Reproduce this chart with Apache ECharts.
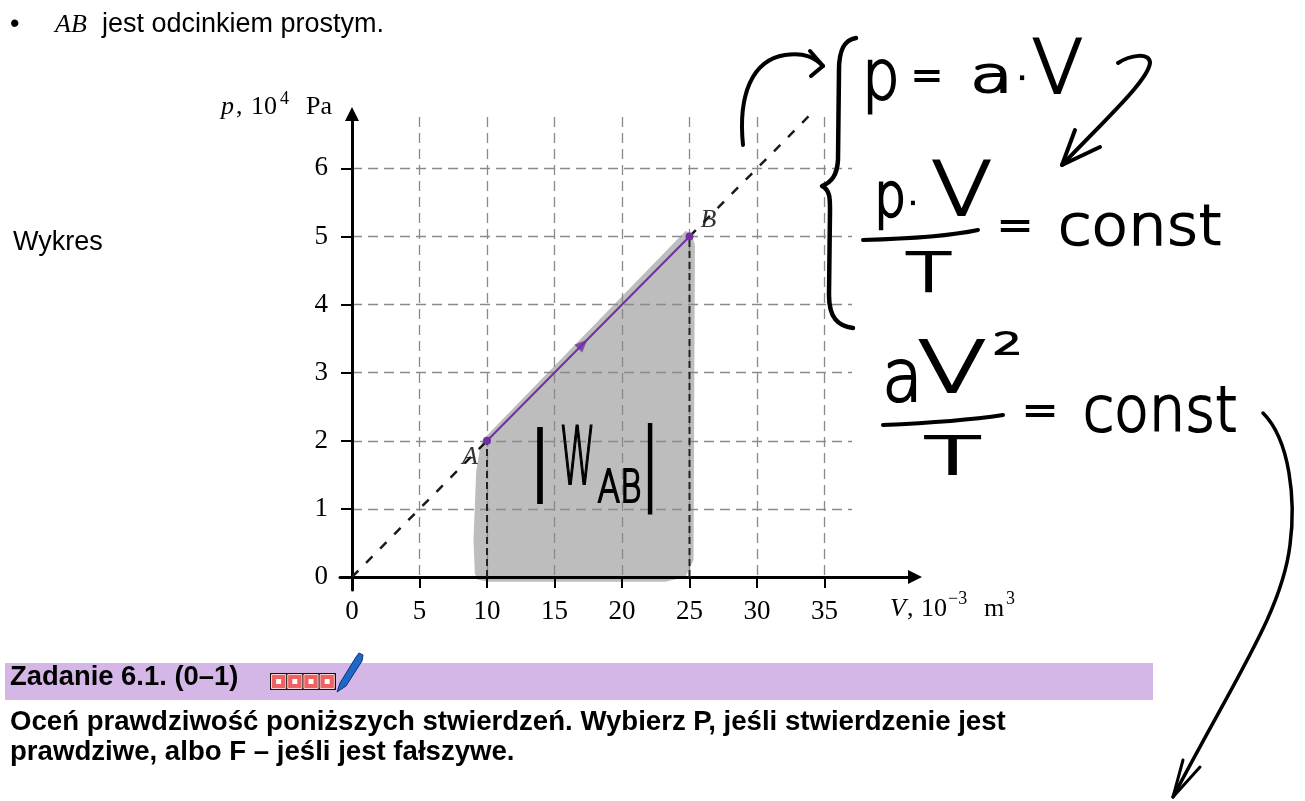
<!DOCTYPE html>
<html>
<head>
<meta charset="utf-8">
<script src="https://cdn.jsdelivr.net/npm/echarts@6/dist/echarts.min.js"></script>
<style>
  html, body { margin: 0; padding: 0; background: #fff; }
  #c { width: 1305px; height: 801px; }
</style>
</head>
<body>
<div id="c"></div>
<script>
// ---------- data ----------
const vTicks = [0, 5, 10, 15, 20, 25, 30, 35];      // V, 10^-3 m^3
const pTicks = [0, 1, 2, 3, 4, 5, 6];                // p, 10^4 Pa
const stateNames = ['A', 'B'];
const stateV = [10, 25];
const stateP = [2, 5];
// p = a·V ray through the origin (drawn below A and beyond B)
const rayV = [0, 10, 25, 34.3];
const rayP = [0, 2, 5, 6.86];
// direction marker on AB
const markV = [17.1];
const markP = [3.42];
// hand-shaded area under AB (work |W_AB|)
const shadeV = [9.1, 9.0, 9.2, 9.45, 9.7, 24.7, 25.1, 25.4, 25.35, 25.3, 24.7, 23.2, 10.2, 9.3];
const shadeP = [0.05, 0.55, 1.55, 1.85, 2.02, 5.08, 5.05, 4.88, 2.6, 0.25, 0.0, -0.07, -0.07, -0.04];

// ---------- layout ----------
const X0 = 352, Y0 = 577;          // pixel position of the origin
const PXV = 13.5, PXP = 68.1;      // pixels per unit on V and p
const vAt = px => (px - X0) / PXV;
const pAt = py => (Y0 - py) / PXP;

const SANS = "'Liberation Sans', Arial, sans-serif";
const SERIF = "'Liberation Serif', 'Times New Roman', serif";
const HAND = "'DejaVu Sans', sans-serif";
const PURPLE = '#7030a0';

// text placed by its baseline; off = baseline distance below the middle line
function txt(text, x, base, fs, o = {}) {
  const sy = o.sy || 1;
  const hand = o.family === HAND;
  const off = hand ? 0.28 : 0.35;
  const style = {
    text: text, fontSize: fs, fontFamily: o.family || SANS,
    fontStyle: o.italic ? 'italic' : 'normal',
    fontWeight: o.bold ? 'bold' : (hand ? 300 : 'normal'),
    fill: o.color || '#000',
    textAlign: o.align || 'left', align: o.align || 'left',
    textVerticalAlign: 'middle', verticalAlign: 'middle'
  };
  if (hand) {
    // thin pen letters, thickened a little with an outline
    style.stroke = '#000';
    style.lineWidth = 2.2;
  }
  return {
    type: 'text', x: x, y: base - off * fs * sy, z: 100,
    scaleX: o.sx || 1, scaleY: sy, style: style
  };
}

// pen strokes of the notes (brace, arrows, fraction bars)
const strokes = [
  ['M863,240 C900,239 950,236 978,230', 4],
  ['M883,425 C930,423 970,420 1003,415', 4],
  ['M856,38 C843,40 839,52 839,70 L838,160 C837,175 832,182 822,186 C830,190 830,198 830,210 L829,295 C829,318 838,326 853,328', 4.5],
  ['M743,145 C738,95 752,60 785,55 C805,52 815,58 823,66', 4],
  ['M810,51 L823,66 L811,76', 4],
  ['M1118,63 C1130,55 1150,52 1150,63 C1148,80 1110,115 1062,165', 4],
  ['M1075,130 L1062,165 L1100,147', 4],
  ['M1263,413 C1290,440 1296,500 1290,545 C1282,610 1240,670 1173,797', 3.5],
  ['M1183,760 L1173,797 L1200,767', 3]
];

const chart = echarts.init(document.getElementById('c'));

const graphics = [
  // heading line
  txt('•', 10, 34, 27),
  txt('AB', 55, 34, 26, { family: SERIF, italic: true }),
  txt('jest odcinkiem prostym.', 102, 34, 27),
  txt('Wykres', 13, 252, 27),

  // axis names
  txt('p', 221, 116, 26, { family: SERIF, italic: true }),
  txt(',', 236, 116, 26, { family: SERIF }),
  txt('10', 251, 116, 26, { family: SERIF }),
  txt('4', 280, 106, 18, { family: SERIF }),
  txt('Pa', 306, 116, 26, { family: SERIF }),
  txt('V', 890, 618, 26, { family: SERIF, italic: true }),
  txt(',', 907, 618, 26, { family: SERIF }),
  txt('10', 921, 618, 26, { family: SERIF }),
  txt('\u22123', 948, 606, 18, { family: SERIF }),
  txt('m', 984, 618, 26, { family: SERIF }),
  txt('3', 1006, 606, 18, { family: SERIF }),

  // |W_AB| written on the shaded area
  txt('|', 540, 487, 75, { family: HAND, align: 'center' }),
  txt('W', 577.5, 486, 80, { family: HAND, align: 'center', sx: 0.45 }),
  txt('AB', 619.5, 503, 44, { family: HAND, align: 'center', sx: 0.75 }),
  txt('|', 650, 494, 89, { family: HAND, align: 'center', sx: 0.7 }),

  // notes: p = a·V
  txt('p', 881, 100, 70, { family: HAND, align: 'center', sx: 0.85 }),
  txt('=', 927, 93.5, 50, { family: HAND, align: 'center', sx: 0.75 }),
  txt('a', 991.5, 93, 50, { family: HAND, align: 'center', sx: 1.4 }),
  txt('·', 1022, 93, 40, { family: HAND, align: 'center' }),
  txt('V', 1057.5, 95, 75, { family: HAND, align: 'center' }),

  // p·V / T = const
  txt('p', 890, 217, 50, { family: HAND, align: 'center', sy: 1.2 }),
  txt('·', 913, 216, 36, { family: HAND, align: 'center' }),
  txt('V', 961.5, 217, 74, { family: HAND, align: 'center', sx: 1.2 }),
  txt('T', 928.5, 292, 54, { family: HAND, align: 'center', sx: 1.4 }),
  txt('=', 1015, 243.5, 50, { family: HAND, align: 'center', sx: 0.85 }),
  txt('const', 1140, 245, 55, { family: HAND, align: 'center', sx: 1.1 }),

  // aV² / T = const
  txt('a', 902.5, 402, 73, { family: HAND, align: 'center', sx: 0.9 }),
  txt('V', 952, 393, 72, { family: HAND, align: 'center', sx: 1.4 }),
  txt('2', 1007.5, 355, 30, { family: HAND, align: 'center', sx: 1.5 }),
  txt('T', 952.5, 475, 52, { family: HAND, align: 'center', sx: 1.8 }),
  txt('=', 1040, 428.5, 50, { family: HAND, align: 'center', sx: 0.85 }),
  txt('const', 1160, 432, 62, { family: HAND, align: 'center', sx: 0.92 }),

  // task header band
  { type: 'rect', z: 1, shape: { x: 5, y: 663, width: 1148, height: 37 }, style: { fill: '#d4b7e6' } },
  txt('Zadanie 6.1. (0\u20131)', 10, 687, 27.4, { bold: true }),
  { type: 'rect', z: 100, shape: { x: 270, y: 673, width: 66, height: 17 }, style: { fill: '#111' } },
  txt('Oce\u0144 prawdziwo\u015b\u0107 poni\u017cszych stwierdze\u0144. Wybierz P, je\u015bli stwierdzenie jest', 10, 732, 27.6, { bold: true }),
  txt('prawdziwe, albo F \u2013 je\u015bli jest fa\u0142szywe.', 10, 762, 27.6, { bold: true }),
  {
    type: 'polygon', z: 101,
    shape: { points: [[337, 692], [340, 683], [356, 657], [359, 653], [363, 655], [362, 661], [346, 686]] },
    style: { fill: '#2166c9', stroke: '#0b3470', lineWidth: 1 }
  }
];
for (let i = 0; i < 4; i++) {
  const cx = 271.5 + i * 16.2;
  graphics.push({ type: 'rect', z: 101, shape: { x: cx, y: 674.5, width: 14.2, height: 14 }, style: { fill: '#f06262', stroke: '#fbd0d0', lineWidth: 1 } });
  graphics.push({ type: 'rect', z: 102, shape: { x: cx + 4.6, y: 679, width: 5, height: 5 }, style: { fill: '#fff' } });
}

const option = {
  animation: false,
  grid: [
    { left: 340, top: 114, width: 575, height: 476, containLabel: false, outerBoundsMode: 'none' },
    { left: 352, top: 117, width: 500, height: 460, containLabel: false, outerBoundsMode: 'none' }
  ],
  xAxis: [
    {
      gridIndex: 0, type: 'value', min: vAt(340), max: vAt(915),
      axisLine: { onZero: true, lineStyle: { color: '#000', width: 3 }, symbol: ['none', 'triangle'], symbolSize: [14, 14] },
      axisTick: { customValues: vTicks, length: 11, lineStyle: { color: '#000', width: 2 } },
      axisLabel: { customValues: vTicks, margin: 8, color: '#000', fontFamily: SERIF, fontSize: 27 },
      splitLine: { show: false }
    },
    {
      gridIndex: 1, type: 'value', min: 0, max: vAt(852), interval: 5,
      axisLine: { show: false }, axisTick: { show: false }, axisLabel: { show: false },
      splitLine: { show: true, showMinLine: false, showMaxLine: false, lineStyle: { color: '#8a8a8a', width: 1.3, type: [10, 6] } }
    }
  ],
  yAxis: [
    {
      gridIndex: 0, type: 'value', min: pAt(590), max: pAt(114),
      axisLine: { onZero: true, lineStyle: { color: '#000', width: 3 }, symbol: ['none', 'triangle'], symbolSize: [14, 14] },
      axisTick: { customValues: pTicks, length: 11, lineStyle: { color: '#000', width: 2 } },
      axisLabel: { customValues: pTicks, margin: 12, color: '#000', fontFamily: SERIF, fontSize: 27 },
      splitLine: { show: false }
    },
    {
      gridIndex: 1, type: 'value', min: 0, max: pAt(117), interval: 1,
      axisLine: { show: false }, axisTick: { show: false }, axisLabel: { show: false },
      splitLine: { show: true, showMinLine: false, showMaxLine: false, lineStyle: { color: '#8a8a8a', width: 1.3, type: [10, 6] } }
    }
  ],
  series: [
    {
      type: 'custom', xAxisIndex: 0, yAxisIndex: 0, z: -5, silent: true, clip: false,
      data: [0],
      renderItem: (params, api) => ({
        type: 'polygon',
        shape: { points: shadeV.map((v, i) => api.coord([v, shadeP[i]])) },
        style: { fill: '#bdbdbd' }
      })
    },
    {
      type: 'line', xAxisIndex: 0, yAxisIndex: 0, symbol: 'none', silent: true, clip: false,
      data: [[rayV[0], rayP[0]], [rayV[1], rayP[1]]],
      lineStyle: { color: '#1a1a1a', width: 2.5, type: [9, 11] }
    },
    {
      type: 'line', xAxisIndex: 0, yAxisIndex: 0, symbol: 'none', silent: true, clip: false,
      data: [[rayV[2], rayP[2]], [rayV[3], rayP[3]]],
      lineStyle: { color: '#1a1a1a', width: 2.5, type: [9, 11] }
    },
    ...stateV.map((v, i) => ({
      type: 'line', xAxisIndex: 0, yAxisIndex: 0, symbol: 'none', silent: true, clip: false,
      data: [[v, 0], [v, stateP[i]]],
      lineStyle: { color: '#222', width: 2, type: [7, 4] }
    })),
    {
      type: 'line', xAxisIndex: 0, yAxisIndex: 0, silent: true, clip: false,
      data: stateV.map((v, i) => [v, stateP[i]]),
      symbol: 'circle', symbolSize: 8,
      itemStyle: { color: PURPLE }, lineStyle: { color: PURPLE, width: 2 }
    },
    {
      id: 'dir', type: 'scatter', xAxisIndex: 0, yAxisIndex: 0, silent: true, clip: false,
      data: markV.map((v, i) => [v, markP[i]]),
      symbol: 'triangle', symbolSize: [11, 13], itemStyle: { color: PURPLE }
    },
    {
      type: 'scatter', xAxisIndex: 0, yAxisIndex: 0, silent: true, clip: false,
      symbolSize: 0,
      data: stateV.map((v, i) => ({
        name: stateNames[i], value: [v, stateP[i]],
        label: { offset: i === 0 ? [-17, 16] : [19, -16] }
      })),
      label: {
        show: true, position: 'inside', formatter: '{b}',
        color: '#000', fontFamily: SERIF, fontStyle: 'italic', fontSize: 26
      }
    },
    {
      type: 'custom', coordinateSystem: 'none', silent: true, z: 50,
      data: [0],
      renderItem: () => ({
        type: 'group',
        children: strokes.map(s => ({
          type: 'path',
          shape: { pathData: s[0] },
          style: { fill: null, stroke: '#000', lineWidth: s[1], lineCap: 'round', lineJoin: 'round' }
        }))
      })
    }
  ],
  graphic: graphics
};
chart.setOption(option);

// orient the direction marker along A -> B on screen
const pa = chart.convertToPixel({ gridIndex: 0 }, [stateV[0], stateP[0]]);
const pb = chart.convertToPixel({ gridIndex: 0 }, [stateV[1], stateP[1]]);
const ang = Math.atan2(pa[1] - pb[1], pb[0] - pa[0]) * 180 / Math.PI;
chart.setOption({ series: [{ id: 'dir', symbolRotate: ang - 90 }] });
</script>
</body>
</html>
